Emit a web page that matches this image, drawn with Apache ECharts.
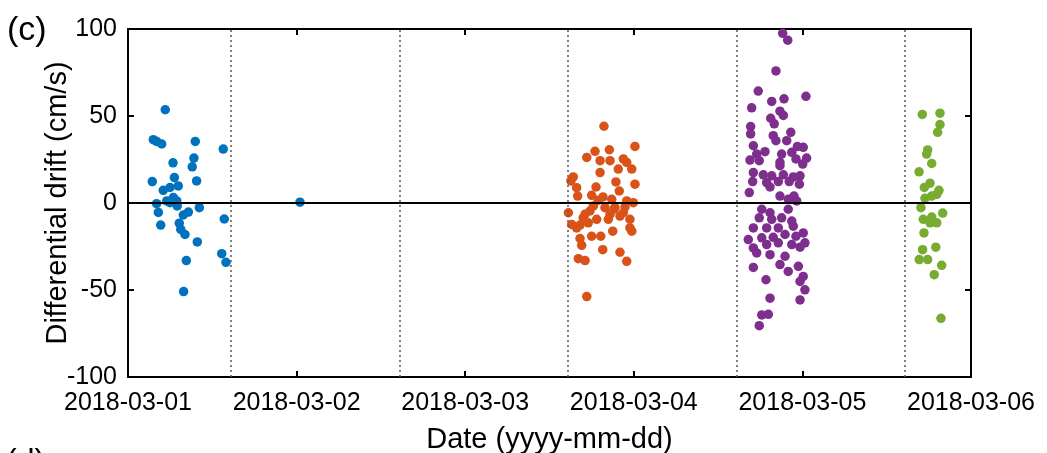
<!DOCTYPE html>
<html>
<head>
<meta charset="utf-8">
<script src="https://cdn.jsdelivr.net/npm/echarts@6/dist/echarts.min.js"></script>
<style>
  html, body { margin: 0; padding: 0; background: #fff; }
  #chart { width: 1047px; height: 453px; }
</style>
</head>
<body>
<div id="chart"></div>
<script>
// Date tick labels (x in days since 2018-03-01 00:00)
const tickLabels = ['2018-03-01', '2018-03-02', '2018-03-03', '2018-03-04', '2018-03-05', '2018-03-06'];

// Pass boundaries drawn as dotted verticals (days)
const passBreaks = [0.613, 1.613, 2.613, 3.613, 4.613];

// Pass A (blue)
const passA_t = [0.221, 0.150, 0.170, 0.200, 0.399, 0.565, 0.267, 0.391, 0.381, 0.144, 0.407, 0.275,
  0.209, 0.249, 0.298, 0.269, 0.230, 0.249, 0.289, 0.170, 0.292, 0.180, 0.358, 0.328, 0.423, 0.194,
  0.304, 0.313, 0.338, 0.411, 0.571, 0.346, 0.556, 0.581, 0.330, 1.020];
const passA_v = [53.6, 36.4, 35.4, 33.9, 35.4, 31.0, 23.1, 25.8, 20.8, 12.3, 12.7, 14.6,
  7.3, 8.9, 9.8, 3.1, 1.2, 0.2, 1.2, -0.4, -1.7, -5.4, -5.2, -6.9, -2.7, -12.7,
  -11.6, -15.2, -18.1, -22.4, -9.2, -33.1, -29.1, -34.1, -50.9, 0.5];

// Pass B (orange)
const passB_t = [2.823, 3.007, 2.770, 2.855, 2.721, 2.800, 2.859, 2.938, 2.958, 2.800, 2.908, 2.988,
  2.641, 2.776, 2.894, 3.007, 2.661, 2.667, 2.750, 2.914, 2.789, 2.869, 2.958, 2.997, 2.760, 2.829,
  2.888, 2.612, 2.740, 2.859, 2.938, 2.700, 2.780, 2.849, 2.918, 2.977, 2.632, 2.681, 2.730, 2.661,
  2.977, 2.988, 2.875, 2.750, 2.804, 2.681, 2.691, 2.816, 2.918, 2.671, 2.711, 2.958, 2.721,
  2.817, 2.883, 2.711, 2.948, 2.627];
const passB_v = [44.1, 32.5, 29.7, 30.6, 26.2, 24.3, 24.3, 25.3, 23.3, 17.5, 19.5, 19.5,
  15.0, 9.2, 12.1, 10.8, 8.8, 4.0, 4.4, 6.9, 1.6, 2.1, 1.2, 0.2, -1.7, -2.7,
  -2.7, -5.6, -4.6, -6.5, -5.6, -8.5, -9.4, -9.4, -7.5, -9.4, -12.3, -12.7, -11.4, -14.3,
  -14.3, -16.2, -16.2, -19.1, -19.1, -20.4, -24.3, -26.8, -28.3, -32.0, -33.1, -33.5, -53.8,
  3.5, -3.5, -6.4, -2.3, 12.7];

// Pass C (purple)
const passC_t = [3.883, 3.913, 3.843, 3.738, 4.021, 3.818, 3.891, 3.699, 3.867, 3.887, 3.812, 3.833,
  3.693, 3.693, 3.827, 3.931, 3.843, 3.907, 3.709, 3.970, 4.005, 3.778, 3.877, 3.937, 3.729, 3.689,
  3.744, 3.867, 3.962, 4.025, 3.867, 4.002, 3.709, 3.768, 3.818, 3.887, 3.946, 3.986, 3.705, 3.788,
  3.857, 3.922, 3.982, 3.808, 3.685, 3.867, 3.950, 3.916, 3.966, 3.759, 3.808, 3.916, 3.744, 3.818,
  3.877, 3.937, 3.709, 3.788, 3.857, 3.946, 4.005, 3.679, 3.759, 3.827, 3.897, 3.962, 3.709, 3.788,
  3.857, 3.937, 3.986, 4.015, 3.729, 3.808, 3.897, 3.867, 3.709, 3.976, 3.916, 4.005, 3.986, 3.784,
  4.015, 3.808, 3.986, 3.759, 3.798, 3.744];
const passC_v = [97.5, 93.6, 75.9, 64.3, 61.3, 58.4, 59.9, 54.7, 52.8, 50.3, 48.7, 45.5,
  43.9, 39.7, 38.7, 40.6, 35.8, 35.8, 32.9, 32.4, 32.0, 29.5, 28.1, 29.1, 28.1, 24.7,
  24.3, 23.3, 25.3, 25.8, 21.4, 22.4, 17.5, 16.2, 15.6, 16.2, 15.0, 15.6, 12.3, 11.7,
  12.3, 12.3, 10.8, 9.2, 6.0, 4.0, 4.0, 2.1, 1.2, -3.6, -5.6, -3.6, -8.5, -9.4,
  -8.5, -10.4, -14.3, -14.3, -14.3, -13.3, -17.2, -21.0, -20.0, -19.7, -18.1, -19.1, -25.8, -23.9,
  -22.9, -23.9, -25.4, -22.9, -28.7, -29.7, -30.6, -35.4, -37.0, -36.4, -39.3, -42.2, -45.1, -44.1,
  -49.9, -54.7, -55.7, -64.3, -64.0, -70.5];

// Pass D (green)
const passD_t = [4.711, 4.816, 4.816, 4.802, 4.743, 4.737, 4.767, 4.692, 4.757, 4.723, 4.810, 4.797,
  4.767, 4.727, 4.703, 4.832, 4.717, 4.767, 4.757, 4.797, 4.721, 4.791, 4.713, 4.693, 4.743, 4.826,
  4.782, 4.822];
const passD_v = [50.9, 51.6, 45.1, 40.6, 30.5, 28.1, 22.7, 17.9, 11.4, 8.9, 7.3, 5.0,
  4.0, 2.7, -2.7, -5.8, -9.4, -8.1, -11.4, -11.4, -17.2, -25.4, -26.8, -32.5, -32.5, -35.8,
  -41.2, -66.3];

const FONT = '"Liberation Sans", Arial, Helvetica, sans-serif';
const pair = (t, v) => t.map((x, i) => [x, v[i]]);

function dotSeries(name, t, v, color) {
  return {
    name, type: 'scatter', data: pair(t, v), symbol: 'circle', symbolSize: 9.5,
    itemStyle: { color, opacity: 1 }, z: 3, silent: true
  };
}

const chart = echarts.init(document.getElementById('chart'), null, { renderer: 'canvas' });

chart.setOption({
  animation: false,
  backgroundColor: '#fff',
  textStyle: { fontFamily: FONT },
  grid: { left: 128, right: 76, top: 29, bottom: 76, containLabel: false, outerBoundsMode: 'none' },
  xAxis: [
    {
      type: 'value', min: 0, max: 5, interval: 1, position: 'bottom',
      name: 'Date (yyyy-mm-dd)', nameLocation: 'middle', nameGap: 48, nameMoveOverlap: false,
      nameTextStyle: { fontSize: 29, color: '#000', fontFamily: FONT },
      axisLine: { show: true, onZero: false, lineStyle: { color: '#000', width: 2 } },
      axisTick: { show: true, inside: true, length: 6, lineStyle: { color: '#000', width: 2 } },
      axisLabel: {
        fontSize: 25, color: '#000', margin: 14, fontFamily: FONT,
        formatter: v => tickLabels[Math.round(v)]
      },
      splitLine: { show: false }
    },
    {
      type: 'value', min: 0, max: 5, interval: 1, position: 'top',
      axisLine: { show: true, onZero: false, lineStyle: { color: '#000', width: 2 } },
      axisTick: { show: true, inside: true, length: 6, lineStyle: { color: '#000', width: 2 } },
      axisLabel: { show: false },
      splitLine: { show: false }
    }
  ],
  yAxis: [
    {
      type: 'value', min: -100, max: 100, interval: 50, position: 'left',
      name: 'Differential drift (cm/s)', nameLocation: 'middle', nameGap: 56, nameRotate: 90,
      nameMoveOverlap: false,
      nameTextStyle: { fontSize: 29, color: '#000', fontFamily: FONT },
      axisLine: { show: true, onZero: false, lineStyle: { color: '#000', width: 2 } },
      axisTick: { show: true, inside: true, length: 6, lineStyle: { color: '#000', width: 2 } },
      axisLabel: { fontSize: 25, color: '#000', margin: 11, fontFamily: FONT },
      splitLine: { show: false }
    },
    {
      type: 'value', min: -100, max: 100, interval: 50, position: 'right',
      axisLine: { show: true, onZero: false, lineStyle: { color: '#000', width: 2 } },
      axisTick: { show: true, inside: true, length: 6, lineStyle: { color: '#000', width: 2 } },
      axisLabel: { show: false },
      splitLine: { show: false }
    }
  ],
  series: [
    {
      // dotted pass boundaries
      type: 'scatter', data: [], z: 1, silent: true,
      markLine: {
        silent: true, symbol: 'none', label: { show: false }, animation: false,
        lineStyle: { color: '#555', width: 1.5, type: [2, 3] },
        data: passBreaks.map(x => ({ xAxis: x }))
      }
    },
    dotSeries('A', passA_t, passA_v, '#0072BD'),
    dotSeries('B', passB_t, passB_v, '#D95319'),
    dotSeries('C', passC_t, passC_v, '#7E2F8E'),
    dotSeries('D', passD_t, passD_v, '#77AC30'),
    {
      // zero reference line
      type: 'scatter', data: [], z: 5, silent: true,
      markLine: {
        silent: true, symbol: 'none', label: { show: false }, animation: false,
        lineStyle: { color: '#000', width: 2, type: 'solid' },
        data: [{ yAxis: 0 }]
      }
    }
  ],
  graphic: [
    { type: 'text', left: 7, top: 14, style: { text: '(c)', font: '34px ' + FONT, fill: '#000' } },
    { type: 'text', left: 6, top: 446, style: { text: '(d)', font: '32px ' + FONT, fill: '#000' } }
  ]
});
</script>
</body>
</html>
